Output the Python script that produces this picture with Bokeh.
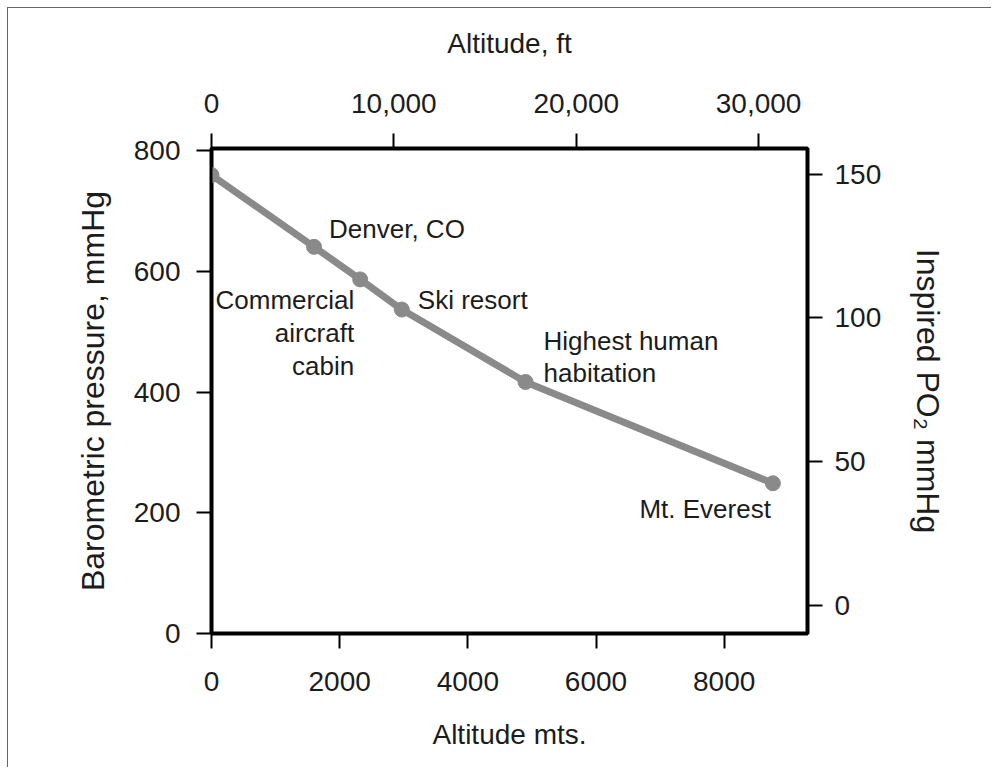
from bokeh.plotting import figure
from bokeh.models import Range1d, LinearAxis, FixedTicker, NumeralTickFormatter
from bokeh.core.properties import value
from bokeh.embed import file_html
from bokeh.resources import INLINE

# ---- data ----
altitude_m = [0, 1600, 2320, 2970, 4900, 8760]
pressure_mmhg = [760, 641, 587, 537, 417, 249]
place_labels = ["", "Denver, CO", "Commercial\naircraft\ncabin", "Ski resort",
                "Highest human\nhabitation", "Mt. Everest"]

bottom_ticks = [0, 2000, 4000, 6000, 8000]
top_ticks_ft = [0, 10000, 20000, 30000]
left_ticks = [0, 200, 400, 600, 800]
right_ticks = [0, 50, 100, 150]

# ranges
X_END_M = 9300
X_END_FT = 32680
Y_END = 804
WATER_VAPOUR = 47
O2_FRACTION = 0.21

FONT = "Liberation Sans"
INK = "#1c1c1c"
GREY = "#8a8a8a"

p = figure(width=984, height=760, output_backend="svg", toolbar_location=None,
           x_range=Range1d(0, X_END_M), y_range=Range1d(0, Y_END),
           min_border_left=203, min_border_right=185,
           min_border_top=140, min_border_bottom=135)
p.extra_x_ranges = {"ft": Range1d(0, X_END_FT)}
p.extra_y_ranges = {"po2": Range1d((0 - WATER_VAPOUR) * O2_FRACTION,
                                   (Y_END - WATER_VAPOUR) * O2_FRACTION)}
p.grid.visible = False
p.outline_line_color = "black"
p.outline_line_width = 4
p.background_fill_color = "white"
p.border_fill_color = "white"
p.styles = {"margin-left": "7px", "margin-top": "7px",
            "border-left": "1px solid #666", "border-top": "1px solid #666"}

top_axis = LinearAxis(x_range_name="ft")
right_axis = LinearAxis(y_range_name="po2")
p.add_layout(top_axis, "above")
p.add_layout(right_axis, "right")

def style(ax, ticks, label, tick_standoff, label_standoff, label_size):
    ax.ticker = FixedTicker(ticks=ticks)
    ax.axis_label = label
    ax.axis_line_color = "black"
    ax.axis_line_width = 2
    ax.major_tick_line_color = "black"
    ax.major_tick_line_width = 2
    ax.major_tick_in = 0
    ax.major_tick_out = 15
    ax.minor_tick_line_color = None
    ax.major_label_text_font = FONT
    ax.major_label_text_font_size = "28px"
    ax.major_label_text_color = INK
    ax.major_label_standoff = tick_standoff
    ax.axis_label_text_font = FONT
    ax.axis_label_text_font_size = label_size
    ax.axis_label_text_font_style = "normal"
    ax.axis_label_text_color = INK
    ax.axis_label_standoff = label_standoff

style(p.below[0], bottom_ticks, "Altitude mts.", 23, 25, "28px")
style(p.left[0], left_ticks, "Barometric pressure, mmHg", 16, 20, "32px")
style(top_axis, top_ticks_ft, "Altitude, ft", 21, 32, "28px")
style(right_axis, right_ticks, "Inspired PO\u2082 mmHg", 12, 26, "32px")
top_axis.formatter = NumeralTickFormatter(format="0,0")

p.line(altitude_m, pressure_mmhg, line_color=GREY, line_width=7)
p.scatter(altitude_m, pressure_mmhg, size=15, fill_color=GREY, line_color=GREY)

# annotation placement (screen offsets from each point)
label_style = [
    None,
    dict(align="left", dx=15, dy=-33, lh=1.1),
    dict(align="right", dx=-6, dy=6, lh=1.1),
    dict(align="left", dx=16, dy=-25, lh=1.1),
    dict(align="left", dx=18, dy=-56, lh=1.06),
    dict(align="right", dx=-2, dy=11, lh=1.1),
]
for x, y, t, st in zip(altitude_m, pressure_mmhg, place_labels, label_style):
    if not t:
        continue
    p.text(x=[x], y=[y], text=[t], x_offset=st["dx"], y_offset=st["dy"],
           text_align=st["align"], text_baseline="top",
           text_line_height=st["lh"],
           text_font=value(FONT), text_font_size="26px", text_color=INK)

open("out.html", "w").write(file_html(p, INLINE))
